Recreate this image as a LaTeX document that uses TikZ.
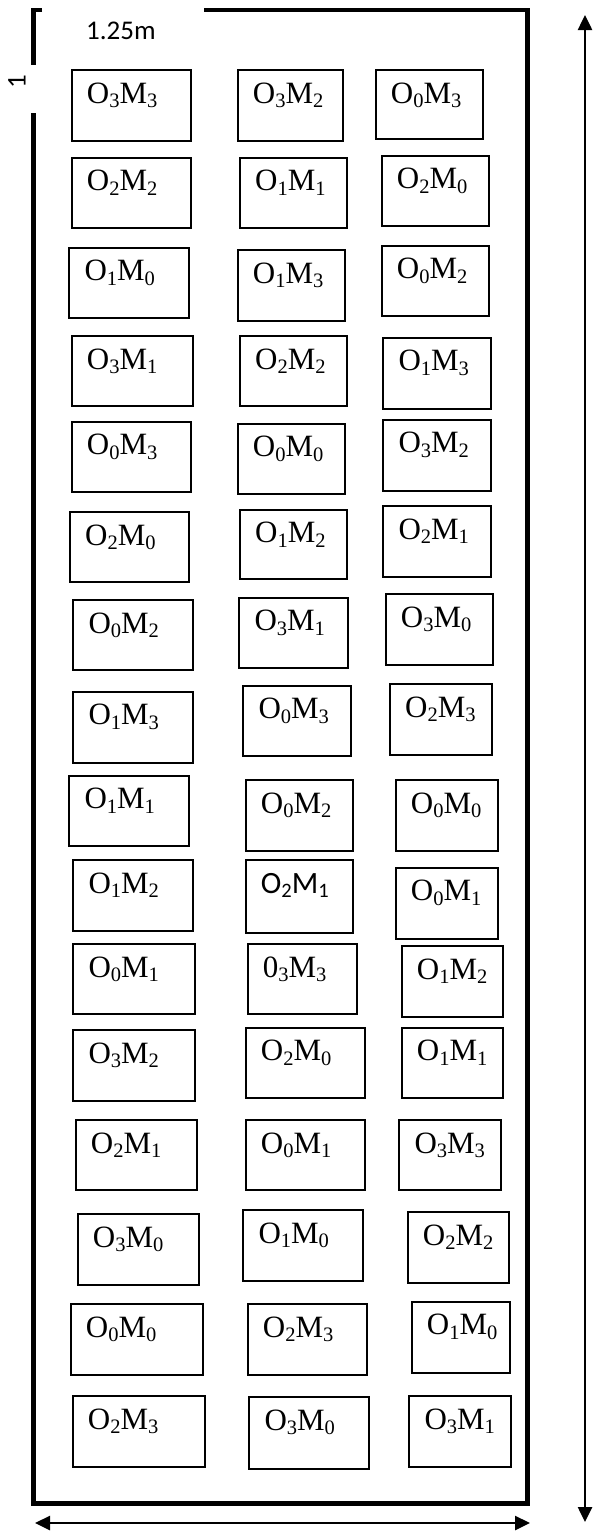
\documentclass[tikz,border=0pt]{standalone}
\usepackage{fontspec}
\setmainfont{Liberation Serif}
\newfontfamily\calib{Carlito}
\usetikzlibrary{arrows.meta}
\newcommand\sbs[1]{\raisebox{-4.5pt}{\fontsize{20.5}{20.5}\selectfont #1}}
\newcommand\om[2]{O\sbs{#1}M\sbs{#2}}
\newcommand\cell[6]{%
  \node[cellbox,minimum width={(#4-#2)*1pt},minimum height={(#5-#3)*1pt}] (#1) at ({(#2+#4)/2},{(#3+#5)/2}) {};
  \node[lab] (#1t) at ([xshift=15pt,yshift=-33pt]#1.north west) {#6};}
\begin{document}
\begin{tikzpicture}[x=1pt,y=-1pt,
  frame/.style={line width=4.5pt},
  cellbox/.style={draw,line width=2pt,inner sep=0pt,outer sep=0pt},
  lab/.style={anchor=base west,inner sep=0pt,font=\fontsize{31}{31}\selectfont},
  dimtxt/.style={inner sep=0pt,font=\calib\fontsize{27}{27}\selectfont},
  dimline/.style={line width=2.5pt,{Triangle[length=15pt,width=14pt]}-{Triangle[length=15pt,width=14pt]}}]
\useasboundingbox (0,0) rectangle (593,1531);
% frame
\draw[frame] (204,10) -- (527.5,10) -- (527.5,1503.5) -- (33.5,1503.5) -- (33.5,113);
\draw[frame] (42,10) -- (33.5,10) -- (33.5,65);
\node[dimtxt,anchor=base west] (dimw) at (86,39.3) {1.25m};
\node[dimtxt,rotate=90] (dimh) at (17,81.5) {1};
% dimension arrows
\coordinate (ha) at (35,1523);
\coordinate (hb) at (530,1523);
\draw[dimline] (ha) -- (hb);
\coordinate (va) at (585,15);
\coordinate (vb) at (585,1522);
\draw[dimline] (va) -- (vb);
% cells
\cell{r1l}{71.7}{70}{191}{140.7}{\om33}
\cell{r1m}{237.7}{70}{343.3}{140.7}{\om32}
\cell{r1r}{375.7}{70}{483.3}{139.3}{\om03}
\cell{r2l}{71.7}{157.7}{191}{227.7}{\om22}
\cell{r2m}{240}{157.7}{346.7}{228.3}{\om11}
\cell{r2r}{381.7}{155.7}{489}{226}{\om20}
\cell{r3l}{69.3}{247.7}{189}{317.7}{\om10}
\cell{r3m}{237.7}{250}{345}{320.7}{\om13}
\cell{r3r}{381.7}{245.7}{489}{315.7}{\om02}
\cell{r4l}{71.7}{336}{193.3}{405.7}{\om31}
\cell{r4m}{240}{336}{346.7}{405.7}{\om22}
\cell{r4r}{383.3}{337.7}{491}{409}{\om13}
\cell{r5l}{71.7}{421.7}{191}{491.7}{\om03}
\cell{r5m}{237.7}{423.7}{345}{493.7}{\om00}
\cell{r5r}{383.3}{419.7}{491}{490.7}{\om32}
\cell{r6l}{70}{512}{189}{581.7}{\om20}
\cell{r6m}{240}{509.7}{346.7}{579.3}{\om12}
\cell{r6r}{383.3}{506}{491}{576.7}{\om21}
\cell{r7l}{73.3}{600}{193.3}{670}{\om02}
\cell{r7m}{239.3}{597.7}{347.7}{667.7}{\om31}
\cell{r7r}{385.7}{594}{493.3}{665}{\om30}
\cell{r8l}{73.3}{691.7}{193.3}{762.7}{\om13}
\cell{r8m}{243.3}{685.7}{351}{756}{\om03}
\cell{r8r}{390}{684}{492.3}{755}{\om23}
\cell{r9l}{69.3}{775.7}{189}{846}{\om11}
\cell{r9m}{245.7}{780}{352.7}{850.7}{\om02}
\cell{r9r}{395.7}{780}{497.7}{850.7}{\om00}
\cell{r10l}{73.3}{860}{193.3}{931}{\om12}
\cell{r10m}{245.7}{860}{353.3}{932.7}{\calib O\sbs{2}M\sbs{1}}
\cell{r10r}{395.7}{867.7}{498.3}{939}{\om01}
\cell{r11l}{73.3}{944}{195}{1014}{\om01}
\cell{r11m}{247.7}{944}{356.7}{1014}{0\sbs{3}M\sbs{3}}
\cell{r11r}{401.7}{946}{503.3}{1016.7}{\om12}
\cell{r12l}{73.3}{1030}{195}{1100.7}{\om32}
\cell{r12m}{245.7}{1027.7}{365}{1098.3}{\om20}
\cell{r12r}{401.7}{1027.7}{503.3}{1098.3}{\om11}
\cell{r13l}{75.7}{1120}{197.3}{1190}{\om21}
\cell{r13m}{245.7}{1120}{365}{1190}{\om01}
\cell{r13r}{399.3}{1120}{501}{1190}{\om33}
\cell{r14l}{77.7}{1214}{199}{1285}{\om30}
\cell{r14m}{243.3}{1210}{363.3}{1281}{\om10}
\cell{r14r}{407.7}{1212.3}{509}{1283.3}{\om22}
\cell{r15l}{70.7}{1304}{203.3}{1375}{\om00}
\cell{r15m}{247.7}{1304}{366.7}{1375}{\om23}
\cell{r15r}{411.7}{1301.7}{510}{1372.7}{\om10}
\cell{r16l}{72.7}{1396}{205}{1466.7}{\om23}
\cell{r16m}{249.3}{1397.3}{369.3}{1469}{\om30}
\cell{r16r}{409.3}{1396}{511}{1466.7}{\om31}
\end{tikzpicture}
\end{document}
